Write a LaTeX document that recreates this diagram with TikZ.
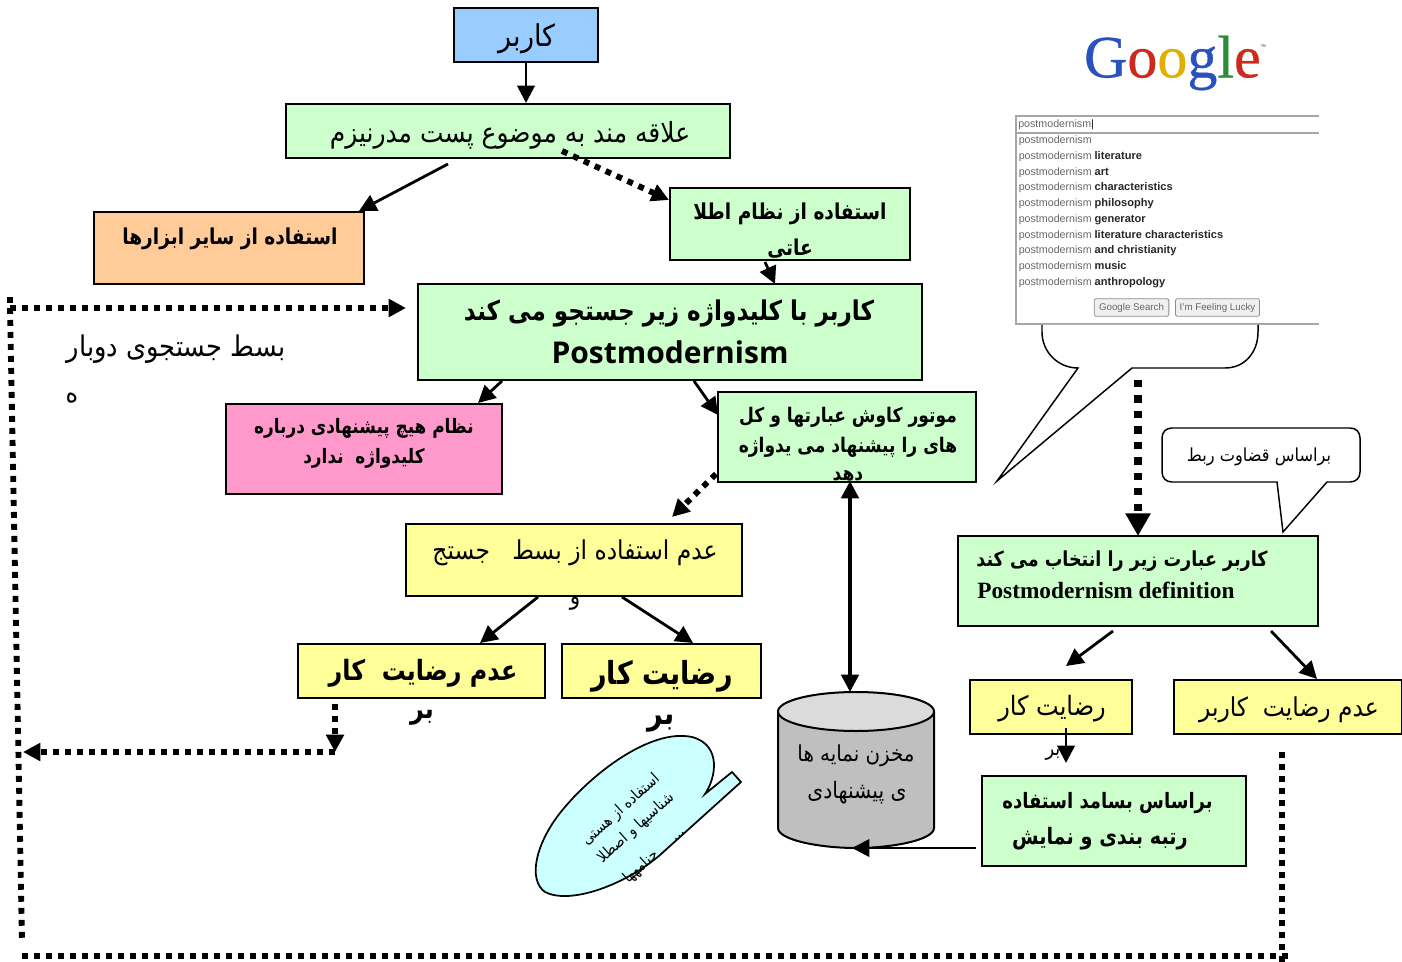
\documentclass[tikz,border=0pt]{standalone}
\usepackage{fontspec}
\usetikzlibrary{arrows.meta,calc}
\TeXXeTstate=1
\setmainfont{Liberation Sans}
\newfontfamily\arabicfont[Script=Arabic,FakeStretch=0.9]{DejaVu Sans}
\newfontfamily\arabicbold[Script=Arabic,FakeStretch=0.85]{DejaVu Sans Bold}
\newfontfamily\logofont[FakeBold=0.6]{Liberation Serif}
\newcommand\fa[2]{{\arabicfont\fontsize{#1}{#1}\selectfont #2}}
\newcommand\fb[2]{{\arabicbold\fontsize{#1}{#1}\selectfont #2}}
\newcommand\kw[1]{{\bfseries\fontsize{8.3}{8.3}\selectfont\textcolor{black!85}{#1}}}
\definecolor{cblue}{HTML}{99CCFF}
\definecolor{cgreen}{HTML}{CCFFCC}
\definecolor{corange}{HTML}{FFCC99}
\definecolor{cpink}{HTML}{FF99CC}
\definecolor{cyellow}{HTML}{FFFF99}
\definecolor{ccyan}{HTML}{CCFFFF}
\definecolor{gblue}{HTML}{2A52BE}
\definecolor{gred}{HTML}{CC2A1C}
\definecolor{gyellow}{HTML}{E0B000}
\definecolor{ggreen}{HTML}{2E8B3A}
\tikzset{
  boxnode/.style={draw=black,line width=1.5pt,inner sep=0pt,outer sep=0pt,anchor=north west},
  txt/.style={inner sep=0pt,text=black,yshift=-1.5pt},
  ltxt/.style={inner sep=0pt,text=black},
  solidarrow/.style={line width=2.1pt,-{Triangle[length=13pt,width=13pt]}},
  dots/.style={line width=4.4pt,dash pattern=on 4.4pt off 4.6pt},
  dotsarrow/.style={dots,-{Triangle[length=13pt,width=13pt]}},
  bubble/.style={draw=black,line width=1.1pt,fill=white,line join=miter},
  row/.style={inner sep=0pt,anchor=west,font=\fontsize{8}{8}\selectfont,text=black!60},
  gbutton/.style={draw=black!45,fill=black!6,line width=.6pt,rounded corners=1pt,inner sep=0pt,text=black!60,font=\fontsize{7.3}{7.3}\selectfont},
}
\begin{document}
\begin{tikzpicture}[x=0.75pt,y=-0.75pt]
\useasboundingbox (0,0) rectangle (1402,962);

% boxes
\node[boxnode,fill=cblue,minimum width=108pt,minimum height=40.5pt] (user) at (454,8) {};
\node[boxnode,fill=cgreen,minimum width=333pt,minimum height=40.5pt] (interest) at (286,104) {};
\node[boxnode,fill=corange,minimum width=202.5pt,minimum height=54pt] (other) at (94,212) {};
\node[boxnode,fill=cgreen,minimum width=180pt,minimum height=54pt] (info) at (670,188) {};
\node[boxnode,fill=cgreen,minimum width=378pt,minimum height=72pt] (search) at (418,284) {};
\node[boxnode,fill=cpink,minimum width=207pt,minimum height=67.5pt] (none) at (226,404) {};
\node[boxnode,fill=cgreen,minimum width=193.5pt,minimum height=67.5pt] (engine) at (718,392) {};
\node[boxnode,fill=cyellow,minimum width=252pt,minimum height=54pt] (nouse) at (406,524) {};
\node[boxnode,fill=cyellow,minimum width=185.25pt,minimum height=40.5pt] (dissat) at (298,644) {};
\node[boxnode,fill=cyellow,minimum width=149.25pt,minimum height=40.5pt] (sat) at (562,644) {};
\node[boxnode,fill=cgreen,minimum width=270pt,minimum height=67.5pt] (select) at (958,536) {};
\node[boxnode,fill=cyellow,minimum width=121.5pt,minimum height=40.5pt] (satb) at (970,680) {};
\node[boxnode,fill=cyellow,minimum width=171pt,minimum height=40.5pt] (dissatb) at (1174,680) {};
\node[boxnode,fill=cgreen,minimum width=198pt,minimum height=67.5pt] (rank) at (982,776) {};

% cylinder
\draw[line width=1.5pt,fill=black!25] (778,712) -- (778,828) .. controls (778,840) and (820,848) .. (856,848) .. controls (892,848) and (934,840) .. (934,828) -- (934,712);
\draw[line width=1.5pt,fill=black!14] (856,711.5) ellipse [x radius=78,y radius=19.5];
\coordinate (cyltop) at (850,692);
\coordinate (cylbot) at (852,848);

% free ends
\coordinate (loopA) at (10,297);
\coordinate (loopB) at (10,308);
\coordinate (loopTip) at (406,308);
\coordinate (loopC) at (22,941);
\coordinate (loopD) at (22,956);
\coordinate (loopE) at (1288,956);
\coordinate (loopF) at (1282,962);
\coordinate (loopG) at (1282,752);
\coordinate (retA) at (335,752);
\coordinate (retTip) at (23,752);
\coordinate (retB) at (335,704);
\coordinate (userout) at (526,62);
\coordinate (intin) at (526,103);

% solid connectors
\draw[solidarrow] (userout) -- (intin);
\draw[solidarrow] ($(interest.south west)+(162,6)$) -- ($(other.north east)+(-5,-1)$);
\draw[solidarrow] ($(info.south west)+(95,2)$) -- ($(search.north west)+(357,0)$);
\draw[solidarrow] ($(search.south west)+(84,1)$) -- ($(none.north east)+(-24,-1)$);
\draw[solidarrow] ($(search.south west)+(276,1)$) -- ($(engine.north west)+(0,23)$);
\draw[solidarrow] ($(nouse.south west)+(132,1)$) -- ($(dissat.north west)+(182,-1)$);
\draw[solidarrow] ($(nouse.south west)+(216,1)$) -- ($(sat.north west)+(131,-1)$);
\draw[solidarrow] ($(select.south west)+(155,5)$) -- ($(satb.north west)+(96,-14)$);
\draw[solidarrow] ($(select.south west)+(313,5)$) -- ($(dissatb.north west)+(143,-1)$);
\draw[solidarrow] ($(satb.south west)+(96,-6)$) -- ($(rank.north west)+(84,-13)$);
\draw[line width=2.7pt,{Triangle[length=13pt,width=13pt]}-{Triangle[length=13pt,width=13pt]}] ($(engine.south west)+(132,-1)$) -- (cyltop);
\draw[solidarrow] ($(rank.south west)+(-6,-18)$) -- (cylbot);

% dotted connectors
\draw[dotsarrow] ($(interest.south west)+(276,-7)$) -- ($(info.north west)+(-1,12)$);
\draw[dotsarrow] ($(engine.south west)+(-2,-8)$) -- ($(nouse.north west)+(266,-7)$);
\draw[dots] (loopA) -- (loopB);
\draw[dotsarrow] (loopB) -- (loopTip);
\draw[dots] (loopB) -- (loopC);
\draw[dots] (loopD) -- (loopE);
\draw[dots] (loopG) -- (loopF);
\draw[dotsarrow] (retA) -- (retTip);
\draw[dotsarrow] (retB) -- (retA);
\coordinate (vA) at (1138,380);
\draw[line width=5.4pt,dash pattern=on 5.4pt off 6.2pt,-{Triangle[length=17pt,width=18pt]}] (vA) -- (select.north -| vA);

% texts
\node[txt] (t1) at (527,37) {\fa{22.5}{\beginR کاربر\endR}};
\node[txt] (t2) at (510,133) {\fa{20.8}{\beginR علاقه مند به موضوع پست مدرنیزم\endR}};
\node[txt] (t3) at (230,237) {\fb{16.4}{\beginR استفاده از سایر ابزارها\endR}};
\node[txt] (t4) at (790,212) {\fb{16.4}{\beginR استفاده از نظام اطلا\endR}};
\node[txt] (t5) at (790,247) {\fb{16.4}{\beginR عاتی\endR}};
\node[txt] (t6) at (669,311) {\fb{20.4}{\beginR کاربر با کلیدواژه زیر جستجو می کند\endR}};
\node[ltxt,font=\fontspec{Open Sans}\bfseries\fontsize{22.5}{22.5}\selectfont] (t7) at (670,352) {Postmodernism};
\node[txt] (t8) at (176,347) {\fa{21.4}{\beginR بسط جستجوی دوبار\endR}};
\node[txt] (t9) at (72,396) {\fa{20}{\beginR ه\endR}};
\node[txt] (t10) at (364,426) {\fb{14.9}{\beginR نظام هیچ پیشنهادی درباره\endR}};
\node[txt] (t11) at (364,456) {\fb{14.9}{\beginR کلیدواژه\ \ ندارد\endR}};
\node[txt] (t12) at (848,415) {\fb{15.1}{\beginR موتور کاوش عبارتها و کل\endR}};
\node[txt] (t13) at (848,445) {\fb{15.1}{\beginR های را پیشنهاد می یدواژه\endR}};
\node[txt] (t14) at (848,474) {\fb{15.1}{\beginR دهد\endR}};
\node[txt] (t15) at (575,551) {\fa{19.5}{\beginR عدم استفاده از بسط\ \ \ جستج\endR}};
\node[txt] (t16) at (575,602) {\fa{18}{\beginR و\endR}};
\node[txt] (t17) at (423,671) {\fb{21}{\beginR عدم\ رضایت\ \ کار\endR}};
\node[txt] (t18) at (422,716) {\fb{21}{\beginR بر\endR}};
\node[txt] (t19) at (662,674) {\fb{23.8}{\beginR رضایت کار\endR}};
\node[txt] (t20) at (661,722) {\fb{23.8}{\beginR بر\endR}};
\node[txt] (t21) at (1122,559) {\fb{15.5}{\beginR کاربر عبارت زیر را انتخاب می کند\endR}};
\node[ltxt,anchor=west,font=\fontspec{Liberation Serif}\bfseries\fontsize{17.5}{17.5}\selectfont] (t22) at (977,590) {Postmodernism definition};
\node[txt] (t23) at (1052,707) {\fa{20}{\beginR رضایت کار\endR}};
\node[txt] (t24) at (1053,753) {\fa{15}{\beginR بر\endR}};
\node[txt] (t25) at (1289,708) {\fa{19.5}{\beginR عدم رضایت\ \ کاربر\endR}};
\node[txt,anchor=east] (t26) at (1213,801) {\fb{15.9}{\beginR براساس بسامد استفاده\endR}};
\node[txt,anchor=east] (t27) at (1188,837) {\fb{17}{\beginR رتبه بندی و نمایش\endR}};
\node[txt] (t28) at (856,754) {\fa{16.5}{\beginR مخزن نمایه ها\endR}};
\node[txt] (t29) at (857,791) {\fa{17}{\beginR ی پیشنهادی\endR}};

% Google panel
\node[ltxt,font=\logofont\fontsize{45}{45}\selectfont] (logo) at (1175,63) {\textcolor{gblue}{G}\textcolor{gred}{o}\textcolor{gyellow}{o}\textcolor{gblue}{g}\textcolor{ggreen}{l}\textcolor{gred}{e}\raisebox{22pt}{\textcolor{black!40}{\fontsize{4}{4}\selectfont ™}}};
\draw[black!35,line width=.8pt] (1319,116) -- (1016,116) -- (1016,324) -- (1319,324);
\draw[black!35,line width=.8pt] (1016,133) -- (1319,133);
\node[row] (q0) at (1018,124.5) {postmodernism\textcolor{black}{|}};
\node[row] (q1) at (1018.5,141) {postmodernism};
\node[row] (q2) at (1018.5,156.5) {postmodernism \kw{literature}};
\node[row] (q3) at (1018.5,172.5) {postmodernism \kw{art}};
\node[row] (q4) at (1018.5,188) {postmodernism \kw{characteristics}};
\node[row] (q5) at (1018.5,204) {postmodernism \kw{philosophy}};
\node[row] (q6) at (1018.5,219.5) {postmodernism \kw{generator}};
\node[row] (q7) at (1018.5,235.5) {postmodernism \kw{literature characteristics}};
\node[row] (q8) at (1018.5,251) {postmodernism \kw{and christianity}};
\node[row] (q9) at (1018.5,267) {postmodernism \kw{music}};
\node[row] (q10) at (1018.5,283) {postmodernism \kw{anthropology}};
\node[gbutton,minimum width=56pt,minimum height=13pt] (b1) at (1131.5,307.5) {Google Search};
\node[gbutton,minimum width=63pt,minimum height=13pt] (b2) at (1217.5,307.5) {I'm Feeling Lucky};

% speech bubbles
\draw[bubble] (1042,325) -- (1042,332) .. controls (1042,352) and (1058,368) .. (1078,368) -- (997,481) -- (1132,368) -- (1225,368) .. controls (1245,368) and (1258,352) .. (1258,332) -- (1258,325);
\draw[bubble] (1172,428) -- (1350,428) .. controls (1356,428) and (1360,432) .. (1360,438) -- (1360,472) .. controls (1360,478) and (1356,482) .. (1350,482) -- (1327,482) -- (1283,532) -- (1277,482) -- (1172,482) .. controls (1166,482) and (1162,478) .. (1162,472) -- (1162,438) .. controls (1162,432) and (1166,428) .. (1172,428) -- cycle;
\node[txt] (t30) at (1259,455) {\fa{13.5}{\beginR براساس قضاوت ربط\endR}};

% oval callout
\draw[draw=black,line width=1.3pt,fill=ccyan] (705,794) .. controls (716,778) and (722,745) .. (692,737) .. controls (650,728) and (590,775) .. (560,813) .. controls (535,845) and (528,880) .. (545,892) .. controls (570,905) and (625,885) .. (660,855) -- (741,782) -- (732,772) -- cycle;
\node[txt,rotate=42] (t31) at (621,808) {\fa{11.5}{\beginR استفاده از هستی\endR}};
\node[txt,rotate=42] (t32) at (636,826) {\fa{11.5}{\beginR شناسیها و اصطلا\endR}};
\node[txt,rotate=42] (t33) at (654,853) {\fa{11.5}{\beginR ...\ \ \ \ \ حنامهها\endR}};
\end{tikzpicture}
\end{document}
